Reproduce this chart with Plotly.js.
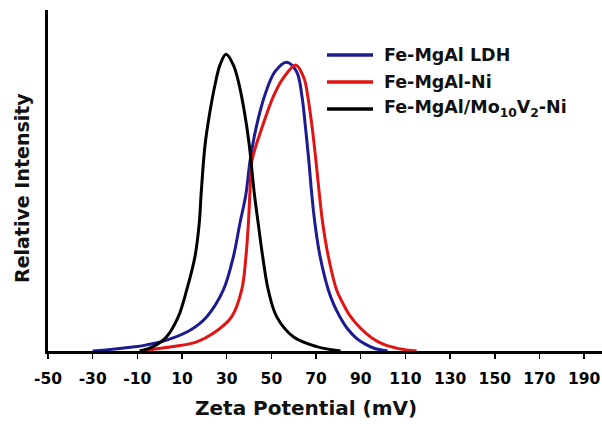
<!DOCTYPE html>
<html>
<head>
<meta charset="utf-8">
<script src="https://cdn.plot.ly/plotly-3.0.1.min.js"></script>
<style>html,body{margin:0;padding:0;background:#fff;}#chart{width:602px;height:424px;}</style>
</head>
<body>
<div id="chart"></div>
<script>
// Zeta potential (mV) and relative intensity (arbitrary units)
const seriesNames = ["Fe-MgAl LDH", "Fe-MgAl-Ni", "Fe-MgAl/Mo<sub>10</sub>V<sub>2</sub>-Ni"];
const xTitle = "Zeta Potential (mV)";
const yTitle = "Relative Intensity";

const ldhX = [-30, -20, -10, -5.8, 3.1, 13.6, 21.0, 28.5, 33.0, 35.9, 38.6, 40.4, 43.1, 47.1, 51.6, 56.8, 61.3, 63.6, 65.3, 66.8, 68.0, 69.5, 71.8, 75.5, 78, 80.7, 84, 88, 92, 96, 102];
const ldhY = [0, 0.006, 0.013, 0.018, 0.032, 0.061, 0.10, 0.179, 0.277, 0.374, 0.46, 0.555, 0.653, 0.751, 0.819, 0.847, 0.819, 0.751, 0.653, 0.555, 0.465, 0.374, 0.277, 0.179, 0.135, 0.10, 0.066, 0.038, 0.02, 0.008, 0];

const niX = [-6, -2.9, 6.1, 16.6, 24.0, 32.2, 36.7, 38.6, 39.7, 40.4, 41.2, 45.7, 51.2, 55.3, 60.9, 64.6, 66.2, 68.3, 70.0, 71.4, 73.0, 75.5, 79.2, 82, 85, 89.7, 95, 100, 107, 115];
const niY = [0, 0.005, 0.013, 0.027, 0.052, 0.10, 0.179, 0.277, 0.374, 0.465, 0.555, 0.653, 0.751, 0.80, 0.839, 0.80, 0.751, 0.653, 0.555, 0.465, 0.374, 0.277, 0.179, 0.14, 0.105, 0.068, 0.038, 0.02, 0.007, 0];

const moVX = [-9, -2.9, 3.1, 8.3, 12.1, 15.8, 17.7, 18.6, 20.3, 22.5, 24.75, 27.0, 29.7, 32.95, 35.6, 37.9, 40.1, 42.3, 44.1, 46.1, 48.6, 52.4, 59.8, 70.3, 81];
const moVY = [0, 0.013, 0.042, 0.10, 0.179, 0.277, 0.374, 0.465, 0.604, 0.702, 0.78, 0.839, 0.87, 0.839, 0.78, 0.702, 0.604, 0.465, 0.374, 0.277, 0.179, 0.10, 0.042, 0.013, 0];

const tickVals = [-50, -30, -10, 10, 30, 50, 70, 90, 110, 130, 150, 170, 190];
const tickText = tickVals.map(String);

const colors = ["#1c1c92", "#e01414", "#000000"];
const font = "'DejaVu Sans', sans-serif";

const mk = (x, y, i) => ({
  x: x, y: y, type: "scatter", mode: "lines", name: seriesNames[i],
  showlegend: false,
  line: {color: colors[i], width: 3, shape: "spline", smoothing: 1.0}
});

const data = [mk(ldhX, ldhY, 0), mk(niX, niY, 1), mk(moVX, moVY, 2)];

// Legend and titles placed in paper coordinates (plot area: 48..602 px wide, 10..351 px tall)
const px = v => (v - 48) / 554;
const py = v => (351 - v) / 341;
const legendRows = [55, 82, 109];
const shapes = seriesNames.map((n, i) => ({
  type: "line", xref: "paper", yref: "paper",
  x0: px(327), x1: px(373), y0: py(legendRows[i]), y1: py(legendRows[i]),
  line: {color: colors[i], width: 3.5}
}));
const annotations = seriesNames.map((n, i) => ({
  text: n, xref: "paper", yref: "paper", x: px(382), y: py(legendRows[i]),
  xanchor: "left", yanchor: "middle", showarrow: false,
  font: {family: font, size: 17.5, color: "#111", weight: 700}
}));
annotations.push({
  text: xTitle, xref: "paper", yref: "paper", x: px(306), y: py(408),
  xanchor: "center", yanchor: "middle", showarrow: false,
  font: {family: font, size: 20, color: "#111", weight: 700}
});
annotations.push({
  text: yTitle, xref: "paper", yref: "paper", x: px(22), y: py(188),
  xanchor: "center", yanchor: "middle", showarrow: false, textangle: -90,
  font: {family: font, size: 19, color: "#111", weight: 700}
});

const layout = {
  width: 602, height: 424,
  margin: {l: 48, r: 0, t: 10, b: 73},
  paper_bgcolor: "#fff", plot_bgcolor: "#fff",
  showlegend: false,
  shapes: shapes,
  annotations: annotations,
  xaxis: {
    range: [-50, 198], tickmode: "array", tickvals: tickVals, ticktext: tickText,
    ticks: "outside", ticklen: 5, tickwidth: 1.5, tickcolor: "#000", ticklabelstandoff: 6,
    showline: true, linewidth: 3, linecolor: "#000", showgrid: false, zeroline: false,
    tickfont: {family: font, size: 15.5, color: "#000", weight: 700}
  },
  yaxis: {
    range: [0, 1], showticklabels: false, ticks: "",
    showline: true, linewidth: 3, linecolor: "#000", showgrid: false, zeroline: false
  }
};

Plotly.newPlot("chart", data, layout, {displayModeBar: false, staticPlot: true});
</script>
</body>
</html>
